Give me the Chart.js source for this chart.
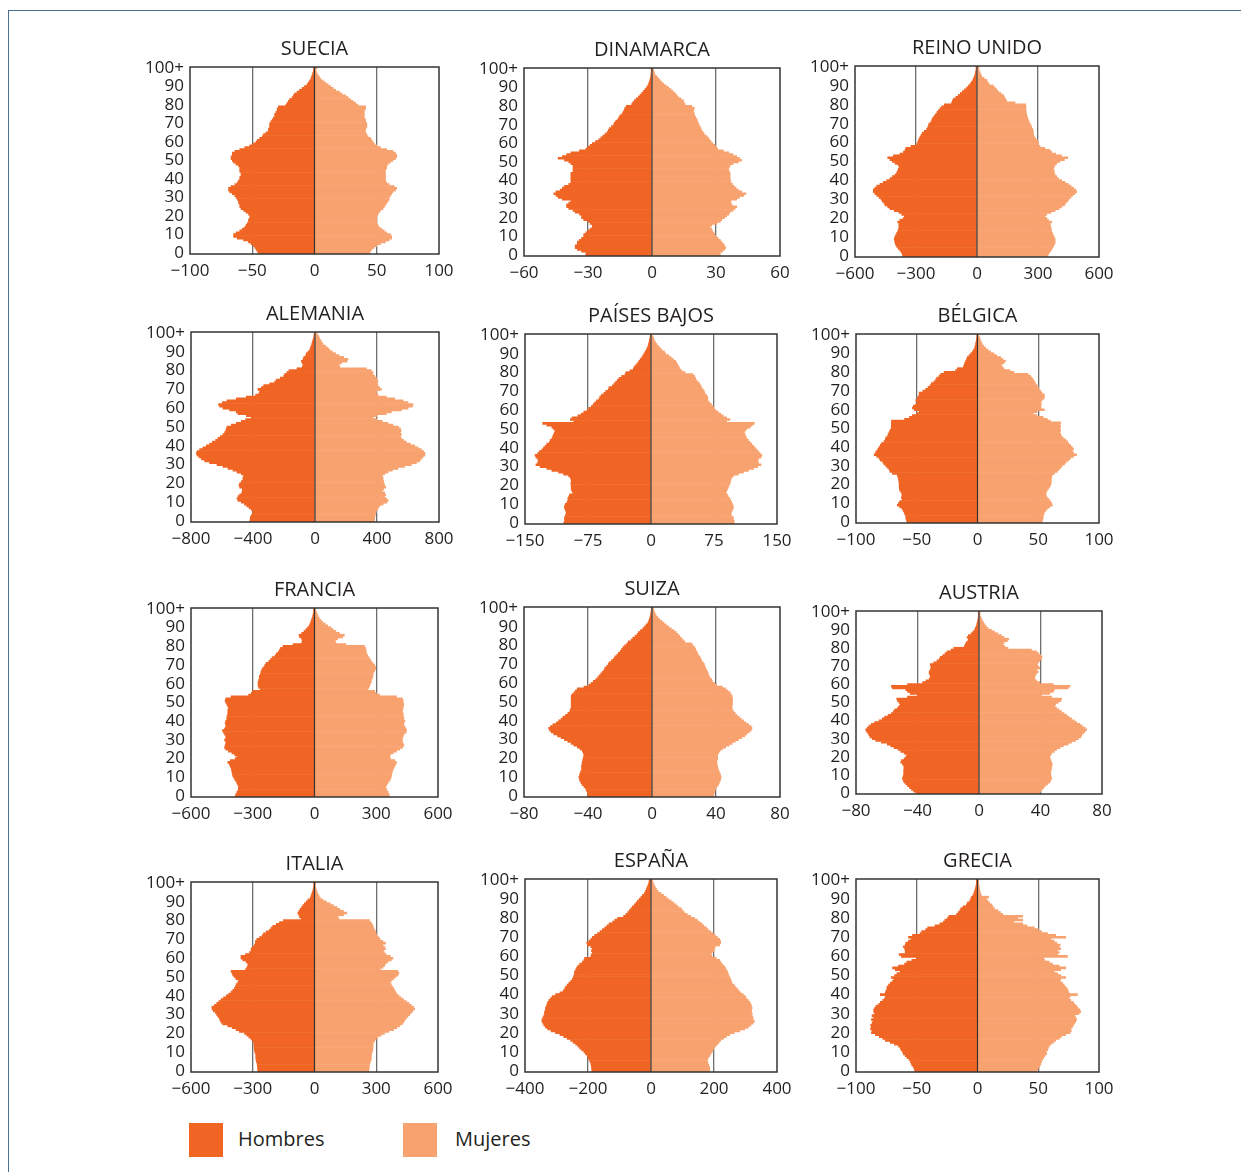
<!DOCTYPE html>
<html lang="es">
<head>
<meta charset="utf-8">
<title>Pirámides de población</title>
<script src="https://cdn.jsdelivr.net/npm/chart.js@4.4.1/dist/chart.umd.min.js"></script>
<style>
  html, body { margin: 0; padding: 0; background: #ffffff; }
  body { width: 1241px; height: 1172px; position: relative; overflow: hidden;
         font-family: "Open Sans", "Noto Sans", sans-serif; color: #231f20; }
  .rule-top { position: absolute; left: 8px; top: 10px; width: 1233px; height: 0; border-top: 1px solid #4f6f8f; }
  .rule-left { position: absolute; left: 8px; top: 10px; width: 0; height: 1162px; border-left: 1px solid #4f6f8f; }
  canvas { position: absolute; }
  .swatch { position: absolute; width: 34px; height: 34px; }
  .legend-text { position: absolute; font-size: 20px; line-height: 24px; }
</style>
</head>
<body>
<div class="rule-top"></div>
<div class="rule-left"></div>

<div class="swatch" id="sw-men" style="left:189px; top:1123px;"></div>
<div class="legend-text" style="left:238px; top:1127px;">Hombres</div>
<div class="swatch" id="sw-women" style="left:403px; top:1123px;"></div>
<div class="legend-text" style="left:455px; top:1127px;">Mujeres</div>

<script>
// Population by single year of age (0 … 100+), in thousands.
const SE_M = [45,46,47,48,49,51,53,57,62,65, 65,63,60,58,56,55,54,53,53,52, 52,53,55,57,59,60,60,61,61,62, 63,64,66,68,69,69,67,64,62,61, 60,60,59,59,60,60,60,61,63,65, 66,67,67,66,66,64,60,56,52,49, 47,46,44,42,41,39,37,37,36,36, 36,35,34,33,32,32,31,30,30,29, 23,22,21,20,18,17,16,14,12,10, 8,6,5,4,3,2.5,2,1.5,1,0.7, 0.8];
const SE_F = [44,45,46,48,50,53,57,60,62,62, 61,58,56,54,52,51,50,50,50,50, 50,51,52,53,55,56,57,58,59,60, 60,61,62,63,65,66,64,60,58,57, 57,57,57,57,57,57,58,58,59,61, 63,65,66,66,65,63,58,53,50,48, 47,46,45,43,42,41,41,41,42,42, 42,41,41,40,40,40,40,40,41,41, 35,33,31,29,27,25,22,20,17,15, 13,11,9,7,5,4,3,2,1.5,1, 2];

const DK_M = [31,31,33,35,36,36,35,35,34,33, 32,32,31,30,29,28,28,29,30,32, 33,33,34,36,37,39,40,40,39,38, 42,44,45,46,45,43,42,41,39,38, 38,38,38,38,38,37,37,37,37,38, 39,41,44,42,40,38,34,31,30,29, 28,26.5,25,24,23,22,21,20.5,20,19, 18,17.7,17,16,15.5,15,14,13.5,13,12.7, 12,9.5,9,8.3,7.4,6.4,5.6,4.8,4,3.3, 2.6,2,1.6,1.3,1,0.8,0.6,0.5,0.4,0.3, 0.5];
const DK_F = [32,32,33,34,34.5,34,33.5,32.7,32,31, 30,29.5,29,28.3,28,27.2,28,30.5,32,32.7, 34,35,36,36.6,38,39,39.7,37.5,37,37, 39.7,41,43,44,42,40.5,39.4,38.5,37.7,37, 36.8,36.6,36.6,36.6,36.6,36.2,35.8,36.2,36.6,38, 40.5,42,41,39.7,38,36,33.4,30.8,30,29.5, 28.5,27.7,27,26.4,25.5,24.5,24,23.3,23,22.5, 22,21.7,21.3,21,20.5,20,19.8,19.4,19.6,19.8, 18.6,15.5,15,14.7,13.5,12.3,11.5,10.8,9.8,8.9, 7.8,6.6,5.5,4.5,3.7,3,2.2,1.4,1.1,0.8, 0.6];

const UK_M = [365,367,372,379,388,395,400,403,405,407, 404,400,395,390,387,384,384,384,390,379, 362,357,370,384,407,428,439,452,457,466, 472,482,493,502,510,510,502,493,477,461, 444,428,416,403,395,390,387,382,387,403, 416,428,439,411,379,362,354,351,325,297, 292,289,285,280,275,269,259,248,243,239, 236,226,222,218,210,203,197,190,182,174, 161,125,121,116,104,92,82,72,61,51, 42,34,27,21,17,13,10,8,6,4, 5];
const UK_F = [348,351,357,364,370,375,380,384,384,384, 380,375,371,367,365,364,361,359,367,351, 343,334,343,364,384,403,416,430,436,446, 452,462,470,482,490,485,474,462,449,433, 416,400,392,384,380,380,375,380,384,392, 408,430,446,416,387,367,359,334,310,302, 302,298,289,282,279,277,277,274,269,266, 261,256,252,249,246,244,242,241,241,241, 239,187,146,141,135,130,118,105,97,89, 80,59,53,48,35,23,19,15,11,8, 10];

const DE_M = [420,418,417,411,404,400,410,425,440,455, 475,497,503,497,486,473,469,469,486,490, 486,475,465,465,460,475,503,529,561,594, 632,680,712,733,748,761,766,761,744,723, 701,680,662,641,626,611,594,583,576,572, 568,540,508,475,447,411,443,497,508,551, 594,615,622,598,568,508,443,383,361,357, 368,346,331,292,260,249,224,202,196,181, 168,116,82,77,82,88,77,73,60,56, 45,34,30,25,21,18,15,11,8,6, 4];
const DE_F = [383,384,385,388,391,395,400,408,417,439, 464,471,460,449,456,449,434,443,456,449, 445,443,439,439,434,449,471,499,535,578, 622,654,675,686,697,708,710,701,686,665, 643,615,589,572,557,551,557,551,555,551, 538,503,471,434,400,374,400,460,492,557, 600,628,632,600,568,514,460,406,396,400, 428,417,406,400,406,400,396,385,374,374, 363,331,159,155,170,206,213,185,155,133, 112,95,84,69,52,44,37,30,25,18, 8];

const NL_M = [104,103,103,103,102,101,101,102,103,103, 102,100,99,99,98,97,93,94,95,95, 95,95.5,95,95,96,98,104,110,118,124, 132,137,135,134,135,137,138,135,133,130, 128,126,124,121,120,118,117,116,115,114, 116,118,124,129,92,96,94,87,83,80, 76,74,71,69,67,65,62,61,59,56, 54,51,50,46,44,42,40,38,35,31, 30,25,21,20,18,16,14.5,13,11,9.7, 8.3,7,5.7,4.5,3.7,3,2.5,2,1.5,1, 0.4];
const NL_F = [99,99,98,98,96,95,96,97,98,98, 97,96,95,94,92,91,89,90,91,92, 93,94,94.5,95,96,98,104,110,116,122, 127,131,128,127,128,131,132,130,128,126, 124,122,120,118,116,114,113,112,111,112, 114,118,120.5,123,90,94,90,86,83,80, 77,75,74,72,70,68,67.5,67.5,66,64, 63.5,62,60,59.5,58,56,54,53,52,50, 40.5,36.6,34.6,33.4,32,30.7,29.5,26.7,24,21, 17.6,16,13,11,9,7,5.5,4,3.2,2.5, 1];

const BE_M = [58,58.5,59,59,59.7,60.4,61,62,64,66, 65,64,62,62.6,62.3,62,63,64,64.3,64.5, 64.5,64.5,64.8,65,65.5,66,70,72,72.7,74, 75.5,77,78,80,81,83,85,84,83,82, 81,80,79,77,76,75.5,74,73.5,72.7,72, 71,71,70.8,70.8,70.8,60,56,53.6,50,48, 52,53.6,52.7,50.8,49.5,50.8,49.5,49,48,48, 45,42.6,40.7,39,38,35.8,34.4,33.6,31.6,30.3, 27.5,18,16.6,11.6,11,10.5,9.7,9,8.4,7, 5.6,4.2,3.2,2.3,2,1.6,1.3,1,0.8,0.6, 0.3];
const BE_F = [53,53.5,54,54,54.5,55,56,57.4,59.5,61.5, 61,60,59,57.4,56.7,56,56.7,57.4,58.5,59.6, 60.2,60.7,60.7,60.7,61,61.5,63.4,65.6,67,68.4, 69.7,71.6,73,75,76.6,79,81.5,79,78,79, 78,76.6,75,74,72.5,70.5,69,68.4,67.8,68.4, 67.8,68.4,67.8,68.4,60,57.4,54,49,46,49, 55,52.5,52,52.5,52,53,54.7,55,55,53, 52,50.5,50,49,47.8,47,46,45,43.7,41.5, 30,26.7,21.8,20.4,19.6,21.8,23,21,19,15.7, 13.5,10.8,8.6,6.7,5.2,4,3.2,2.5,2,1.5, 0.5];

const FR_M = [385,382,377,372,370,369,373,377,382,388, 393,398,400,401,403,405,410,414,421,409, 385,377,388,401,418,431,437,434,431,431, 437,431,431,437,442,447,437,431,431,434, 431,426,426,424,421,421,421,418,421,426, 431,434,431,405,320,307,300,263,271,274, 274,274,271,268,268,263,261,258,254,246, 241,235,222,214,206,192,186,176,170,165, 153,104,62,59,62,72,75,62,51,42, 34,26,22,18,15,12,9,7,5,4, 4];
const FR_F = [364,362,357,352,349,346,351,357,363,369, 372,374,376,378,381,385,390,395,398,390, 369,365,369,382,398,414,427,434,431,427, 427,427,431,434,444,447,444,439,434,434, 439,434,434,431,431,427,427,431,431,434, 431,431,427,398,316,300,292,259,264,268, 271,276,276,281,284,284,287,292,297,297, 292,284,276,271,264,259,254,251,251,248, 243,153,104,101,113,137,145,121,104,91, 80,64,52,39,31,23,18,14,10,7, 5];

const CH_M = [40,40.2,40.4,41,41.5,42.5,43.6,44.3,45,45.3, 45.7,45.3,45,44.5,44,44,44,43.8,43.6,43.3, 43,42.8,42.5,43,43.6,45,46.7,48.8,50.5,52.6, 54.7,56.8,59,61.4,63,64,64.6,63.5,61.9,59.8, 58.3,56.8,55.6,54,52.6,51.4,51,50.5,50.5,50.5, 50.5,50.5,50.5,50.5,50,48.8,47.8,46.7,42.5,39.4, 38,36.7,35.2,34,33,32,31,30,29.5,28.3, 27.4,26.8,25.3,24,23.2,22,21,19.8,19,18.2, 17,15.7,14.8,13,12,10.6,9.3,8.5,7.2,5.8, 4.7,3.7,2.6,2.1,1.7,1.3,1,0.8,0.6,0.4, 0.4];
const CH_F = [38.6,38.8,39,39.4,39.8,40.6,41.5,42,42.5,42.9, 43.2,42.9,42.5,42,41.5,41.2,41,40.7,40.4,40.7, 41,41,41,41.7,42.5,44,46,48.2,50,52, 54,56,57.9,59.3,60.8,62,62.5,62,60.4,58.7, 57.2,55.8,54.5,53,52,51,50.3,50,50,50.3, 50.3,50.3,50.3,50,49.5,48.8,47.4,46,44,40.4, 39,37.7,37.3,36.2,35.6,35.2,34.8,34.1,33.5,33, 32.7,32,31,30.5,30,28.9,28.5,27.8,27.2,26.8, 25.7,24.7,20.5,19.4,18.4,17.3,16.3,15.2,13.8,12, 10.4,8.9,7.5,6.2,4.7,3.6,2.6,2,1.5,1.1, 0.6];

const AT_M = [41,42.5,43.9,45.2,46.5,47.6,48.7,49.3,49.8,49.4, 49,49,49,48.9,48.7,49,49.8,50.9,50.4,48.7, 47.6,47,48.7,50.9,52.6,55.2,57.4,59.6,63.5,67.2, 69.4,70.9,71.6,72.2,73.1,73.7,72.7,71.6,70,67.9, 65,62.9,61.3,59.1,57,55.7,54.8,53,52,51.3, 52,53,53.5,46.5,40,44.8,46.5,47.6,56.3,57, 46.5,36.7,34.5,32.4,31.7,31.7,32.4,32.4,31.7,31.3, 31.3,31.7,29.5,27.3,25.8,25.2,23.6,22.1,20.8,18.2, 16.4,9.5,9,8.4,7.3,6.9,7.7,6.9,5.1,4, 2.9,2.4,1.9,1.5,1.2,0.9,0.7,0.5,0.4,0.3, 0.5];
const AT_F = [39.5,40.2,41,42.1,43.2,44.6,46,46.6,47.2,47, 46.7,46.7,46.7,47,47.2,47.4,47.6,47.2,46.7,46.4, 46,46.6,47.2,49,50.4,52.6,54.8,58,60.2,62.9, 64.6,66.3,66.8,67.9,69,70,69,67.2,65.7,63.5, 62,60.2,58.5,57,55.4,53.7,52,50.4,49.3,49.8, 51.5,53.3,53.7,47.2,40.6,46,48.3,49,58,59.2, 48.3,39.5,37.4,36.3,36.3,36.7,37.4,38.5,37.4,39.5, 38.5,38,38.5,39.5,40.6,41,40.2,38.9,37.4,34.1, 18.8,16.7,15.6,16.2,18.4,19.3,16.2,14.5,12.3,10.1, 8,5.8,4.7,3.8,3,2.3,1.7,1.2,0.8,0.6, 0.6];

const IT_M = [275,276,277,278,279,282,284,285,285,286, 290,292,293,294,294,295,300,308,319,329, 340,365,381,400,421,446,454,459,462,470, 475,481,491,498,498,486,475,465,454,442, 429,417,405,397,389,384,381,373,368,381, 389,397,400,405,335,329,324,324,332,348, 357,357,335,316,308,308,300,292,287,287, 280,267,254,248,235,219,211,203,186,170, 151,65,73,76,81,76,70,63,57,49, 40,32,21,17,14,11,8,6,4,3, 4];
const IT_F = [264,265,266,267,268,272,275,276,276,277, 280,282,284,284,285,286,292,300,308,324, 340,361,384,400,413,426,433,438,446,454, 462,470,478,486,481,470,459,446,433,421, 410,400,394,389,384,378,373,368,373,384, 394,405,410,405,319,332,340,345,357,373, 381,368,348,340,335,345,340,332,345,332, 319,313,303,300,297,292,287,284,280,275, 267,118,113,141,157,141,122,109,92,76, 57,41,28,22,17,13,10,7,5,4, 6];

const ES_M = [188,188,189,190,191,194,197,200,202,208, 213,220,226,232,239,247,255,266,277,289, 303,317,328,335,340,343,346,346,343,340, 338,338,335,335,332,330,328,324,319,314, 303,289,279,274,271,266,261,255,250,247, 245,243,243,239,236,232,226,218,213,211, 191,189,186,189,186,191,202,204,197,191, 186,179,170,162,154,147,140,133,122,115, 106,87,80,74,69,64,59,53,48,43, 37,32,27,21,18,15,13,10,8,6, 6];
const ES_F = [187,186,186,183,181,180,179,182,186,190, 194,197,200,205,211,216,221,230,239,250, 264,282,298,309,317,324,328,324,324,321, 321,319,319,321,319,317,314,309,303,300, 293,285,279,274,268,264,257,255,253,250, 247,245,243,239,236,232,226,221,218,207, 194,191,194,200,202,204,218,221,221,218, 211,204,197,189,181,176,168,162,154,147, 138,126,115,106,101,96,87,80,72,64, 55,48,40,32,23,18,14,11,8,6, 5];

const GR_M = [51.5,52,52.7,54,54.6,55.4,56.3,58,59.5,61, 61.7,62.8,63.6,65,68.3,71.8,75.9,78,80.8,84, 87.3,86.8,88,87.3,87.9,86.8,86.2,87.3,85.4,86.8, 84.6,85.4,85.4,84.6,83.5,81.3,80,78,76.4,75.9, 80,75.9,75.3,74.5,74.5,73.2,71.8,69.9,69,71, 68.3,66.3,63.6,67.7,69.9,65,60,58.2,54,50, 62.8,64.5,59.5,59.5,60,61,59.5,59,56.8,54.6, 56.8,53.5,47.3,46,42.6,41,35,31,28.2,26.8, 24.7,23.6,17.3,16,14.6,13.8,11.9,9.1,8.3,6.4, 5.6,5,3.7,3,2.5,2,1.6,1.2,1,0.8, 1];
const GR_F = [49,49.6,50.8,51.6,52.2,52.7,53.5,54.4,55.4,57, 56.3,57.6,58.2,59,60.4,62.5,64.4,67.2,69,72.6, 76.2,77.2,76.7,78,78.9,80,80.8,81.6,80.8,80, 83.5,84.9,84.3,82.7,81.6,80,78.9,76.7,75.3,76.2, 82.2,75.3,74.5,74,72.6,71.3,70,68,68.5,72.6, 68.5,65.8,63,68.5,72.6,67.2,61.7,59,55.4,54.4, 74,65.8,67.2,65.8,68.5,67.2,68,65.3,63,60.4, 72.6,64.4,57.6,52.7,50,46.7,40.7,37.2,29.8,37.2, 33.1,37.2,20.8,18.9,16.8,14,12.7,11.9,9.9,8.6, 7.2,9.1,3.1,2.5,2.1,1.8,1.5,1.2,1,0.8, 1];

// Age categories, bottom to top; only every tenth one gets a tick label.
const AGE_LABELS = Array.from({ length: 101 }, (_, a) => (a === 100 ? '100+' : String(a)));

// Colours
const MEN_COLOR = '#f06424';
const WOMEN_COLOR = '#f7a26f';
const TEXT_COLOR = '#231f20';
const GRID_COLOR = '#6e6e6e';
const FRAME_COLOR = '#333333';

// Panel layout: plot-area box on the page and the axis limit of each pyramid.
const SIDE = 60;      // margin each side of the plot (age labels sit in the left one)
const TITLE_H = 37;   // title band above the plot
const XAXIS_H = 30;   // band below the plot for the value labels
const PANELS = [
  { name: 'SUECIA',       men: SE_M, women: SE_F, max: 100, left: 190, top: 67,  width: 249, height: 187 },
  { name: 'DINAMARCA',    men: DK_M, women: DK_F, max: 60,  left: 524, top: 68,  width: 256, height: 188 },
  { name: 'REINO UNIDO',  men: UK_M, women: UK_F, max: 600, left: 855, top: 66,  width: 244, height: 191 },
  { name: 'ALEMANIA',     men: DE_M, women: DE_F, max: 800, left: 191, top: 332, width: 248, height: 190 },
  { name: 'PAÍSES BAJOS', men: NL_M, women: NL_F, max: 150, left: 525, top: 334, width: 252, height: 190 },
  { name: 'BÉLGICA',      men: BE_M, women: BE_F, max: 100, left: 856, top: 334, width: 243, height: 189 },
  { name: 'FRANCIA',      men: FR_M, women: FR_F, max: 600, left: 191, top: 608, width: 247, height: 189 },
  { name: 'SUIZA',        men: CH_M, women: CH_F, max: 80,  left: 524, top: 607, width: 256, height: 190 },
  { name: 'AUSTRIA',      men: AT_M, women: AT_F, max: 80,  left: 856, top: 611, width: 246, height: 183 },
  { name: 'ITALIA',       men: IT_M, women: IT_F, max: 600, left: 191, top: 882, width: 247, height: 190 },
  { name: 'ESPAÑA',       men: ES_M, women: ES_F, max: 400, left: 525, top: 879, width: 252, height: 193 },
  { name: 'GRECIA',       men: GR_M, women: GR_F, max: 100, left: 856, top: 879, width: 243, height: 193 }
];

document.getElementById('sw-men').style.background = MEN_COLOR;
document.getElementById('sw-women').style.background = WOMEN_COLOR;

Chart.defaults.font.family = '"Open Sans", "Noto Sans", sans-serif';
Chart.defaults.color = TEXT_COLOR;

// Centre line at zero (over the bars) and the box around the plot.
const pyramidFrame = {
  id: 'pyramidFrame',
  afterDatasetsDraw(chart) {
    const { ctx, chartArea: a, scales } = chart;
    const x0 = scales.x.getPixelForValue(0);
    ctx.save();
    ctx.strokeStyle = FRAME_COLOR;
    ctx.lineWidth = 1.2;
    ctx.beginPath();
    ctx.moveTo(x0, a.top);
    ctx.lineTo(x0, a.bottom);
    ctx.stroke();
    ctx.restore();
  },
  afterDraw(chart) {
    const { ctx, chartArea: a } = chart;
    ctx.save();
    ctx.strokeStyle = FRAME_COLOR;
    ctx.lineWidth = 1.5;
    ctx.strokeRect(a.left, a.top, a.right - a.left, a.bottom - a.top);
    ctx.restore();
  }
};

function drawPyramid(p) {
  const canvas = document.createElement('canvas');
  const W = p.width + 2 * SIDE;
  const H = TITLE_H + p.height + XAXIS_H;
  canvas.width = W;
  canvas.height = H;
  canvas.style.width = W + 'px';
  canvas.style.height = H + 'px';
  canvas.style.left = (p.left - SIDE) + 'px';
  canvas.style.top = (p.top - TITLE_H) + 'px';
  document.body.appendChild(canvas);

  const half = p.max / 2;
  new Chart(canvas, {
    type: 'bar',
    data: {
      labels: AGE_LABELS,
      datasets: [
        { label: 'Hombres', data: p.men.map(v => -v), backgroundColor: MEN_COLOR },
        { label: 'Mujeres', data: p.women, backgroundColor: WOMEN_COLOR }
      ]
    },
    options: {
      indexAxis: 'y',
      responsive: false,
      animation: false,
      devicePixelRatio: 1,
      events: [],
      layout: { padding: { left: 0, right: SIDE, top: 0, bottom: 0 } },
      datasets: { bar: { barPercentage: 1, categoryPercentage: 1, borderWidth: 0 } },
      plugins: {
        legend: { display: false },
        tooltip: { enabled: false },
        title: {
          display: true,
          fullSize: false,
          text: p.name,
          color: TEXT_COLOR,
          font: { size: 20, weight: 'normal', lineHeight: 22 / 20 },
          padding: { top: 8, bottom: 7 }
        }
      },
      scales: {
        x: {
          type: 'linear',
          min: -p.max,
          max: p.max,
          stacked: true,
          afterFit(scale) { scale.height = XAXIS_H; },
          ticks: {
            stepSize: half,
            maxRotation: 0,
            padding: 7,
            color: TEXT_COLOR,
            font: { size: 17 },
            callback: v => (v < 0 ? '\u2212' + (-v) : String(v))
          },
          grid: {
            drawTicks: false,
            lineWidth: 1.3,
            color: c => (c.tick && Math.abs(Math.abs(c.tick.value) - half) < 1e-6 ? GRID_COLOR : 'rgba(0,0,0,0)')
          },
          border: { display: false }
        },
        y: {
          type: 'category',
          reverse: true,
          stacked: true,
          afterFit(scale) { scale.width = SIDE; },
          ticks: {
            autoSkip: false,
            padding: 6,
            color: TEXT_COLOR,
            font: { size: 17 },
            callback(v) { return v % 10 === 0 ? this.getLabelForValue(v) : ''; }
          },
          grid: { display: false, drawTicks: false },
          border: { display: false }
        }
      }
    },
    plugins: [pyramidFrame]
  });
}

PANELS.forEach(drawPyramid);
</script>
</body>
</html>
